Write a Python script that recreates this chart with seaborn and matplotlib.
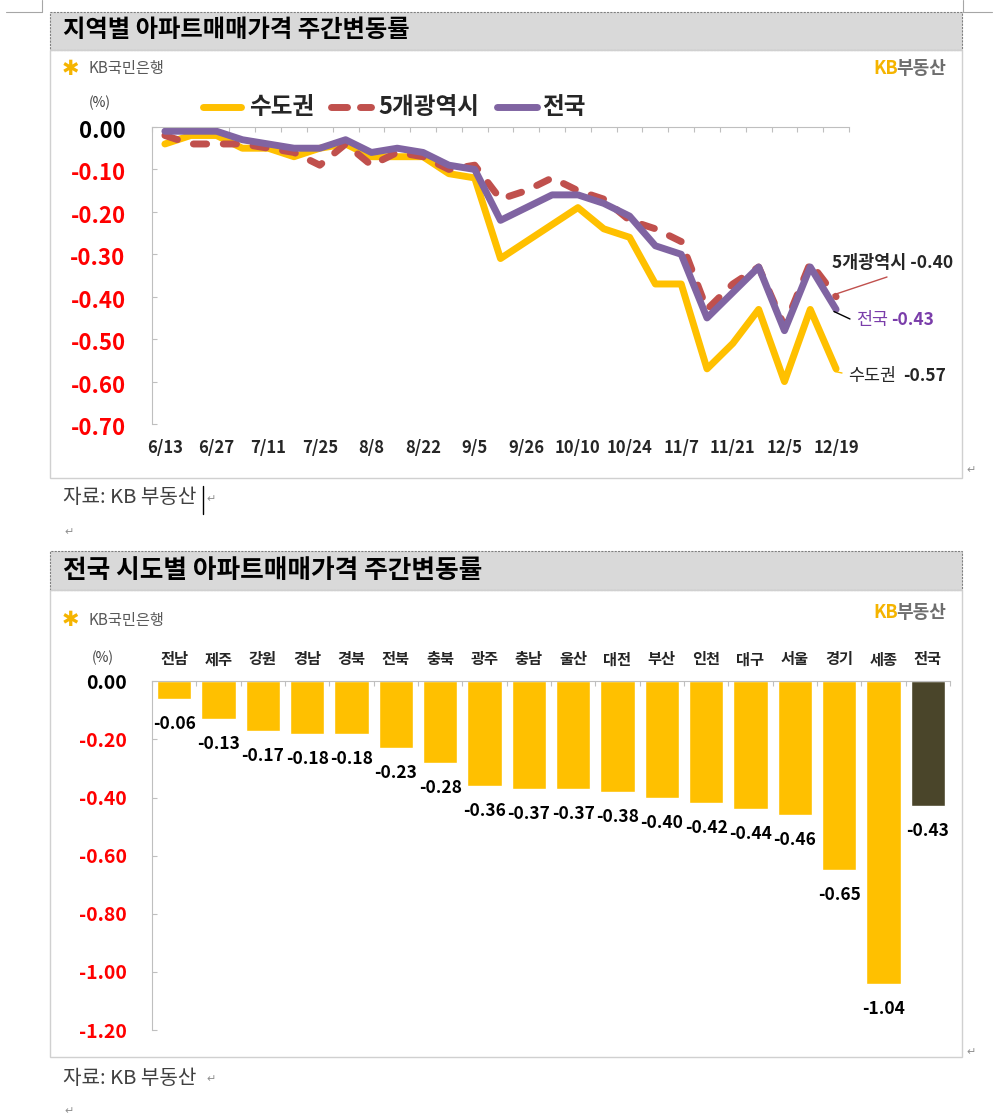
import matplotlib
matplotlib.use('Agg')
import matplotlib.pyplot as plt
from matplotlib.lines import Line2D
from matplotlib.patches import Rectangle
from matplotlib.ticker import FixedLocator
from matplotlib.transforms import ScaledTranslation
import seaborn as sns
import pandas as pd
import numpy as np

# ====================== DATA ======================
weeks = ['6/13', '6/20', '6/27', '7/4', '7/11', '7/18', '7/25', '8/1', '8/8', '8/15',
         '8/22', '8/29', '9/5', '9/19', '9/26', '10/3', '10/10', '10/17', '10/24', '10/31',
         '11/7', '11/14', '11/21', '11/28', '12/5', '12/12', '12/19']
sudo = [-0.04, -0.02, -0.02, -0.05, -0.05, -0.07, -0.05, -0.04, -0.07, -0.07,
        -0.07, -0.11, -0.12, -0.31, -0.27, -0.23, -0.19, -0.24, -0.26, -0.37,
        -0.37, -0.57, -0.51, -0.43, -0.60, -0.43, -0.57]
metro = [-0.02, -0.04, -0.04, -0.04, -0.05, -0.06, -0.09, -0.04, -0.09, -0.06,
         -0.07, -0.10, -0.09, -0.17, -0.15, -0.12, -0.15, -0.17, -0.22, -0.24,
         -0.27, -0.43, -0.37, -0.33, -0.47, -0.32, -0.40]
nation = [-0.01, -0.01, -0.01, -0.03, -0.04, -0.05, -0.05, -0.03, -0.06, -0.05,
          -0.06, -0.09, -0.10, -0.22, -0.19, -0.16, -0.16, -0.18, -0.21, -0.28,
          -0.30, -0.45, -0.39, -0.33, -0.48, -0.33, -0.43]
series_names = ['수도권', '5개광역시', '전국']

regions = ['전남', '제주', '강원', '경남', '경북', '전북', '충북', '광주', '충남',
           '울산', '대전', '부산', '인천', '대구', '서울', '경기', '세종', '전국']
region_chg = [-0.06, -0.13, -0.17, -0.18, -0.18, -0.23, -0.28, -0.36, -0.37,
              -0.37, -0.38, -0.40, -0.42, -0.44, -0.46, -0.65, -1.04, -0.43]

# ====================== STYLE ======================
sns.set_theme(style='white')
plt.rcParams['font.family'] = ['Noto Sans CJK KR', 'DejaVu Sans']
plt.rcParams['axes.unicode_minus'] = False

YELLOW = '#FFC000'
RED = '#C0504D'
PURPLE = '#8064A2'
DARK = '#4A452A'
GRID = '#BFBFBF'
TICK_RED = '#FF0000'

W, H = 1003, 1118
fig = plt.figure(figsize=(W / 100, H / 100), dpi=100, facecolor='white')


def P(x, y):
    return (x / W, 1 - y / H)


def ftext(x, y, s, **kw):
    kw.setdefault('va', 'center')
    return fig.text(x / W, 1 - y / H, s, **kw)


def fline(xs, ys, **kw):
    fig.add_artist(Line2D([x / W for x in xs], [1 - y / H for y in ys],
                          transform=fig.transFigure, **kw))


def frect(x0, y0, x1, y1, **kw):
    fig.add_artist(Rectangle(P(x0, y1), (x1 - x0) / W, (y1 - y0) / H,
                             transform=fig.transFigure, **kw))


def logos(y_left, y_right):
    ftext(62, y_left, '✱', color='#F5B400', fontsize=15, family=['DejaVu Sans'])
    ftext(89, y_left, 'KB국민은행', color='#595959', fontsize=11)
    ftext(873, y_right, 'KB', color='#F5B400', fontsize=13, fontweight='bold')
    ftext(896, y_right, '부동산', color='#6E6E6E', fontsize=13, fontweight='bold')


# 페이지 표시선 (Word crop marks)
fline([6, 42], [12, 12], color='#A6A6A6', lw=0.8)
fline([42, 42], [0, 12], color='#A6A6A6', lw=0.8)
fline([963, 963], [0, 12], color='#A6A6A6', lw=0.8)
fline([963, 992], [12, 12], color='#A6A6A6', lw=0.8)

# ====================== CHART 1: LINE ======================
frect(50, 12, 962, 50, facecolor='#D9D9D9', edgecolor='#808080', lw=0.8, linestyle=(0, (2, 1)))
frect(50, 50, 962, 478, facecolor='none', edgecolor='#D0D0D0', lw=1)
ftext(63, 30, '지역별 아파트매매가격 주간변동률', fontsize=17.5, fontweight='bold', color='black')
logos(69, 69)
ftext(100, 103, '(%)', fontsize=10, color='#404040', ha='center')

ax1 = fig.add_axes([152 / W, 1 - 424 / H, 697 / W, 297 / H])
ax1.set_facecolor('none')
x_idx = np.arange(len(weeks))
df_line = pd.DataFrame({'x': x_idx, '수도권': sudo, '5개광역시': metro, '전국': nation})
for name, color in zip(series_names, [YELLOW, RED, PURPLE]):
    sns.lineplot(data=df_line, x='x', y=name, ax=ax1, color=color, lw=5)
    ln = ax1.lines[-1]
    ln.set_solid_joinstyle('round')
    ln.set_solid_capstyle('round')
    if name == '5개광역시':
        ln.set_dashes((1.9, 2.4))
        ln.set_dash_capstyle('round')
        ln.set_dash_joinstyle('round')

ax1.set_xlim(-0.5, 26.5)
ax1.set_ylim(-0.70, 0.0)
ax1.set_xlabel('')
ax1.set_ylabel('')
ax1.set_xticks(x_idx[::2])
ax1.set_xticklabels(weeks[::2], fontsize=12, fontweight='bold')
ax1.xaxis.set_minor_locator(FixedLocator(np.arange(-0.5, 27, 1)))
ax1.tick_params(axis='x', which='major', bottom=True, top=False, length=0, pad=11)
ax1.tick_params(axis='x', which='minor', bottom=False, top=True, direction='in',
                length=3.6, width=0.8, color=GRID)
yt = np.round(np.arange(-0.70, 0.001, 0.10), 2)
ax1.set_yticks(yt)
ax1.set_yticklabels([f'{v:.2f}' if v != 0 else '0.00' for v in yt], fontsize=16, fontweight='bold')
ax1.tick_params(axis='y', direction='in', length=3.6, width=0.8, color=GRID, pad=19, left=True)
for lab in ax1.get_yticklabels():
    lab.set_color('black' if lab.get_text() == '0.00' else TICK_RED)
    lab.set_transform(lab.get_transform() + ScaledTranslation(0, -2 / 100, fig.dpi_scale_trans))
for s in ['right', 'bottom']:
    ax1.spines[s].set_visible(False)
for s in ['left', 'top']:
    ax1.spines[s].set_color(GRID)
    ax1.spines[s].set_linewidth(0.8)
ax1.grid(False)

# legend (manual)
fline([203.5, 241.5], [107, 107], color=YELLOW, lw=5, solid_capstyle='round')
ftext(249, 107, '수도권', fontsize=17, fontweight='bold')
fline([331.5, 347], [107, 107], color=RED, lw=5, solid_capstyle='round')
fline([360, 371.5], [107, 107], color=RED, lw=5, solid_capstyle='round')
ftext(378, 107, '5개광역시', fontsize=17, fontweight='bold')
fline([497.5, 536.5], [107, 107], color=PURPLE, lw=5, solid_capstyle='round')
ftext(542, 107, '전국', fontsize=17, fontweight='bold')

# end labels
fline([833, 887], [295, 277], color=RED, lw=1)
ftext(832, 263, '5개광역시 -0.40', fontsize=12.5, fontweight='bold')
fline([834, 850], [311.5, 319], color='black', lw=1)
ftext(856, 320, '전국', fontsize=12.5, color='#7A3DAA')
ftext(891, 320, '-0.43', fontsize=12.5, fontweight='bold', color='#7A3DAA')
fline([835, 842], [371.5, 373], color=YELLOW, lw=1)
ftext(848, 376, '수도권', fontsize=12.5)
ftext(903, 376, '-0.57', fontsize=12.5, fontweight='bold')

ftext(63, 498, '자료: KB 부동산', fontsize=14.5, color='#404040')
fline([203, 203], [486, 514], color='black', lw=1)
ftext(206, 499, '↵', fontsize=8, color='#909090', family=['DejaVu Sans'])
ftext(966, 470, '↵', fontsize=8, color='#909090', family=['DejaVu Sans'])
ftext(64, 532, '↵', fontsize=8, color='#909090', family=['DejaVu Sans'])

# ====================== CHART 2: BAR ======================
frect(50, 551, 962, 590, facecolor='#D9D9D9', edgecolor='#808080', lw=0.8, linestyle=(0, (2, 1)))
frect(50, 590, 962, 1057, facecolor='none', edgecolor='#D0D0D0', lw=1)
ftext(63, 571, '전국 시도별 아파트매매가격 주간변동률', fontsize=18.5, fontweight='bold', color='black')
logos(620, 612)
ftext(103, 658, '(%)', fontsize=10, color='#404040', ha='center')

ax2 = fig.add_axes([152 / W, 1 - 1030 / H, 798 / W, (1030 - 681.3) / H])
ax2.set_facecolor('none')
df_bar = pd.DataFrame({'region': regions, 'chg': region_chg})
bar_colors = [YELLOW] * (len(regions) - 1) + [DARK]
sns.barplot(data=df_bar, x='region', y='chg', hue='region', palette=bar_colors,
            legend=False, width=0.78, saturation=1, ax=ax2)
for i, v in enumerate(region_chg):
    ax2.annotate(f'{v:.2f}', (i, v), xytext=(0, -18), textcoords='offset points',
                 ha='center', va='center', fontsize=12.5, fontweight='bold', color='black')

ax2.set_xlim(-0.5, len(regions) - 0.5)
ax2.set_ylim(-1.20, 0.0)
ax2.set_xlabel('')
ax2.set_ylabel('')
ax2.xaxis.tick_top()
ax2.set_xticks(range(len(regions)))
ax2.set_xticklabels(regions, fontsize=11, fontweight='bold')
ax2.xaxis.set_minor_locator(FixedLocator(np.arange(-0.5, len(regions), 1)))
ax2.tick_params(axis='x', which='major', top=True, bottom=False, length=0, pad=10)
ax2.tick_params(axis='x', which='minor', top=True, bottom=False, direction='in',
                length=3.6, width=0.8, color=GRID)
yt2 = np.round(np.arange(-1.20, 0.001, 0.20), 2)
ax2.set_yticks(yt2)
ax2.set_yticklabels([f'{v:.2f}' if v != 0 else '0.00' for v in yt2], fontsize=14, fontweight='bold')
ax2.tick_params(axis='y', direction='in', length=3.6, width=0.8, color=GRID, pad=18, left=True)
for lab in ax2.get_yticklabels():
    lab.set_color('black' if lab.get_text() == '0.00' else TICK_RED)
for s in ['right', 'bottom']:
    ax2.spines[s].set_visible(False)
for s in ['left', 'top']:
    ax2.spines[s].set_color(GRID)
    ax2.spines[s].set_linewidth(0.8)
ax2.grid(False)

ftext(63, 1078, '자료: KB 부동산', fontsize=14.5, color='#404040')
ftext(206, 1079, '↵', fontsize=8, color='#909090', family=['DejaVu Sans'])
ftext(966, 1052, '↵', fontsize=8, color='#909090', family=['DejaVu Sans'])
ftext(64, 1111, '↵', fontsize=8, color='#909090', family=['DejaVu Sans'])

fig.savefig('out.png', dpi=100, facecolor='white')
plt.close(fig)
